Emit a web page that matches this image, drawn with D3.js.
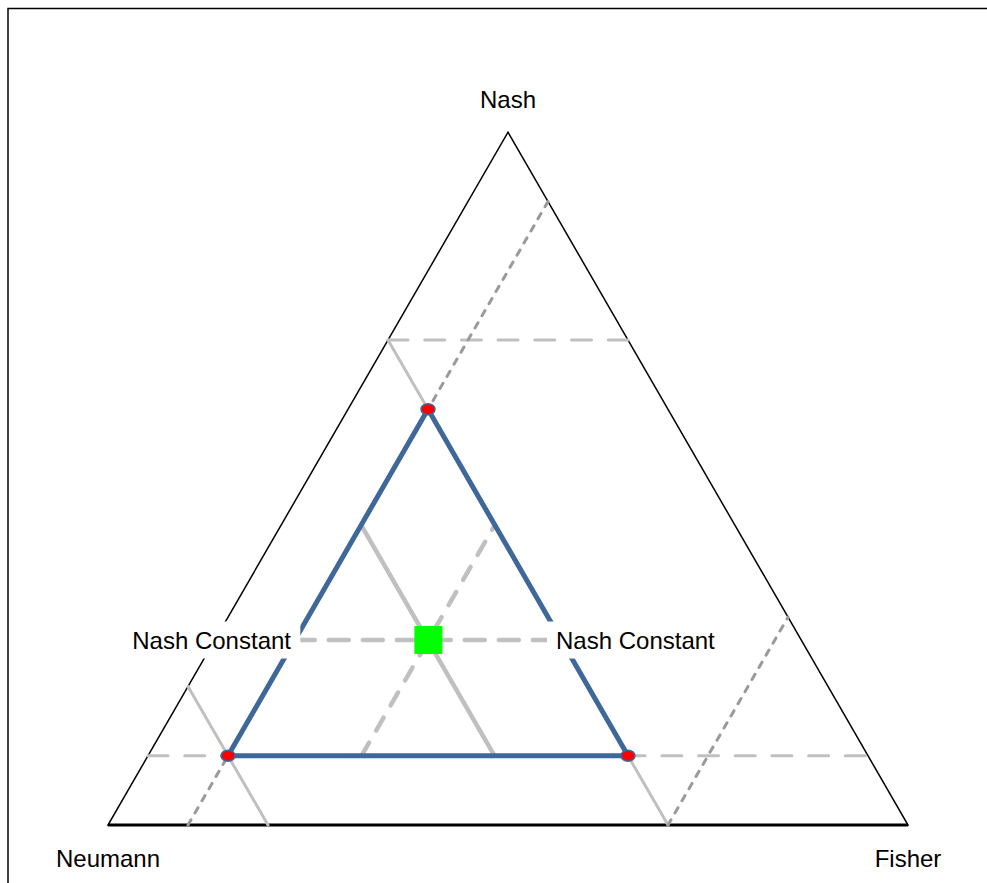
<!DOCTYPE html>
<html>
<head>
<meta charset="utf-8">
<script src="https://cdn.jsdelivr.net/npm/d3@7"></script>
<style>
	html, body { margin: 0; padding: 0; background: #fff; }
	svg { display: block; }
	text { font-family: "Liberation Sans", Arial, sans-serif; font-size: 24px; fill: #000; }
</style>
</head>
<body>
<div id="chart"></div>
<script>
// ternary points are [Neumann, Fisher, Nash]
var cornerNames = ["Neumann", "Fisher", "Nash"];
var corners = [[1, 0, 0], [0, 1, 0], [0, 0, 1]];

var innerTriangle = [[0.3, 0.1, 0.6], [0.8, 0.1, 0.1], [0.3, 0.6, 0.1]];
var centerPoint = [0.467, 0.267, 0.267];

var lightSolid = [
	[[0.3, 0, 0.7], [0.3, 0.7, 0]],
	[[0.8, 0, 0.2], [0.8, 0.2, 0]]
];
var lightDashed = [
	[[0.3, 0, 0.7], [0, 0.3, 0.7]],
	[[0.9, 0, 0.1], [0, 0.9, 0.1]]
];
var darkDashed = [
	[[0, 0.1, 0.9], [0.9, 0.1, 0]],
	[[0.3, 0.7, 0], [0, 0.7, 0.3]]
];
var centerSolid = [[[0.467, 0.1, 0.433], [0.467, 0.433, 0.1]]];
var centerDashed = [
	[[0.633, 0.267, 0.1], [0.3, 0.267, 0.433]],
	[[0.633, 0.1, 0.267], [0.3, 0.433, 0.267]]
];
var constantLabels = ["Nash Constant", "Nash Constant"];

(function(d3) {
	var W = 987, H = 883;

	var xSc = d3.scaleLinear().domain([0, 1]).range([108, 908]);
	var ySc = d3.scaleLinear().domain([0, 1]).range([825, 825 - 800 * Math.sqrt(3) / 2]);

	function px(p) { return xSc(p[1] + p[2] / 2); }
	function py(p) { return ySc(p[2]); }

	var line = d3.line().x(px).y(py);

	var svg = d3.select("#chart").append("svg").attr("width", W).attr("height", H);

	// outer frame (runs off right and bottom)
	svg.append("rect").attr("x", 8).attr("y", 8.5).attr("width", W + 20).attr("height", H + 20)
		.attr("fill", "none").attr("stroke", "#000").attr("stroke-width", 1.5);

	// outer triangle
	svg.append("path").attr("d", line(corners) + "Z")
		.attr("fill", "none").attr("stroke", "#000").attr("stroke-width", 1.5);
	svg.append("path").attr("d", line([corners[0], corners[1]]))
		.attr("stroke", "#000").attr("stroke-width", 3);

	function drawSegs(arr, color, width, dash) {
		svg.append("g").selectAll("path").data(arr).enter().append("path")
			.attr("d", function(d) { return line(d); })
			.attr("fill", "none")
			.attr("stroke", color)
			.attr("stroke-width", width)
			.attr("stroke-linecap", "round")
			.attr("stroke-dasharray", dash);
	}

	drawSegs(lightSolid, "#c0c0c0", 3, null);
	drawSegs(lightDashed, "#c0c0c0", 3, "20,16.7");
	drawSegs(darkDashed, "#9a9a9a", 3, "6,8");
	drawSegs(centerSolid, "#c0c0c0", 4.5, null);
	drawSegs([centerDashed[0]], "#c0c0c0", 4.5, "15,14");
	drawSegs([centerDashed[1]], "#c0c0c0", 4.5, "20,14");

	// blue triangle
	svg.append("path").attr("d", line(innerTriangle) + "Z")
		.attr("fill", "none").attr("stroke", "#3e6899").attr("stroke-width", 5)
		.attr("stroke-linejoin", "miter");

	// constant labels with white boxes
	var cy = py(centerPoint) + 8.5;
	var labPos = [{x: 291, anchor: "end"}, {x: 556, anchor: "start"}];
	var lab = svg.append("g").selectAll("g").data(constantLabels).enter().append("g");
	var labText = lab.append("text")
		.attr("x", function(d, i) { return labPos[i].x; })
		.attr("y", cy)
		.attr("text-anchor", function(d, i) { return labPos[i].anchor; })
		.text(function(d) { return d; });
	labText.each(function() {
		var b = this.getBBox();
		d3.select(this.parentNode).insert("rect", "text")
			.attr("x", b.x - 9).attr("y", b.y - 5)
			.attr("width", b.width + 18).attr("height", b.height + 10)
			.attr("fill", "#fff");
	});

	// corner labels
	var cornerLab = [{x: 0, y: 42}, {x: 0, y: 42}, {x: 0, y: -24}];
	svg.append("g").selectAll("text").data(cornerNames).enter().append("text")
		.attr("x", function(d, i) { return px(corners[i]) + cornerLab[i].x; })
		.attr("y", function(d, i) { return py(corners[i]) + cornerLab[i].y; })
		.attr("text-anchor", "middle")
		.text(function(d) { return d; });

	// vertices
	svg.append("g").selectAll("ellipse").data(innerTriangle).enter().append("ellipse")
		.attr("cx", px).attr("cy", py)
		.attr("rx", 7).attr("ry", 5.5)
		.attr("fill", "#ff0000").attr("stroke", "#3e6899").attr("stroke-width", 1.5);

	// center point
	svg.append("rect")
		.attr("x", px(centerPoint) - 14).attr("y", py(centerPoint) - 14)
		.attr("width", 28).attr("height", 28)
		.attr("fill", "#00ff00");
})(d3);
</script>
</body>
</html>
